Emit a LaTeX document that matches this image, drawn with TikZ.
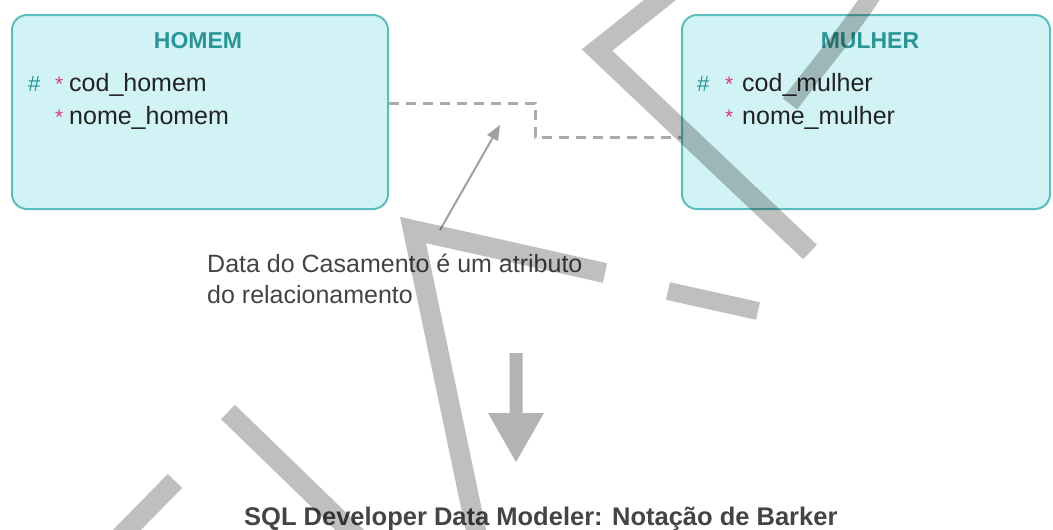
\documentclass[tikz,border=0pt]{standalone}
\usepackage{fontspec}
\setmainfont{Liberation Sans}
\usetikzlibrary{arrows.meta}
\definecolor{boxfill}{HTML}{D2F3F6}
\definecolor{boxline}{HTML}{5BBDBD}
\definecolor{teal2}{HTML}{2B9494}
\definecolor{starred}{HTML}{D2407A}
\definecolor{txt}{HTML}{222222}
\definecolor{note}{HTML}{444444}
\definecolor{dashgray}{HTML}{AAAAAA}
\definecolor{arrgray}{HTML}{A0A0A0}
\definecolor{bigarr}{HTML}{B3B3B3}
\tikzset{
  entity/.style={draw=boxline, line width=2pt, fill=boxfill, rounded corners=15pt, inner sep=0pt},
  etitle/.style={anchor=base, inner sep=0pt, text=teal2, font=\fontsize{23}{27}\selectfont\bfseries},
  hashmark/.style={anchor=base west, inner sep=0pt, text=teal2, font=\fontsize{22}{26}\selectfont},
  reqmark/.style={anchor=base west, inner sep=0pt, text=starred, font=\fontsize{21}{24}\selectfont},
  attr/.style={anchor=base west, inner sep=0pt, text=txt, font=\fontsize{25}{30}\selectfont},
  notetext/.style={anchor=base west, inner sep=0pt, text=note, font=\fontsize{25}{30}\selectfont},
  rel/.style={draw=dashgray, line width=3pt, dash pattern=on 10pt off 7pt},
  pointer/.style={draw=arrgray, line width=2pt, -{Triangle[length=15pt,width=12pt]}},
  watermark/.style={draw=black, opacity=0.25, line width=20pt, line join=miter}
}
\begin{document}
\begin{tikzpicture}[x=1pt, y=-1pt]
\useasboundingbox (0,0) rectangle (1053,530);
% entities
\node[entity, minimum width=376pt, minimum height=194pt] (homem) at (200,112) {};
\node[entity, minimum width=368pt, minimum height=194pt] (mulher) at (866,112) {};
\node[etitle] (thomem) at (198,48) {HOMEM};
\node[etitle] (tmulher) at (870,48) {MULHER};
% HOMEM attributes
\node[hashmark] (h1) at (28,91) {\#};
\node[reqmark] (s1) at (55,91) {*};
\node[attr] (a1) at (69,91) {cod\_homem};
\node[reqmark] (s2) at (55,124) {*};
\node[attr] (a2) at (69,124) {nome\_homem};
% MULHER attributes
\node[hashmark] (h2) at (697,91) {\#};
\node[reqmark] (s3) at (725,91) {*};
\node[attr] (a3) at (742,91) {cod\_mulher};
\node[reqmark] (s4) at (725,124) {*};
\node[attr] (a4) at (742,124) {nome\_mulher};
% relationship
\coordinate (b1) at (535,103);
\coordinate (b2) at (535,137);
\draw[rel] (homem.east |- b1) -- (b1) -- (b2) -- (mulher.west |- b2);
% note
\node[notetext] (n1) at (207,272) {Data do Casamento é um atributo};
\node[notetext] (n2) at (207,303) {do relacionamento};
\coordinate (ptail) at (440,230);
\coordinate (ptip) at (500,125);
\draw[pointer] (ptail) -- (ptip);
% big arrow
\fill[bigarr] (509.5,353) -- (522.5,353) -- (522.5,413) -- (544,413) -- (516,462) -- (488,413) -- (509.5,413) -- cycle;
% title
\node[anchor=base west, inner sep=0pt, text=note, font=\fontsize{25.5}{30}\selectfont\bfseries] (title) at (244,525) {SQL Developer Data Modeler: Notação de Barker};
% watermark strokes
\draw[watermark] (670,-8) -- (597,50) -- (810,252);
\draw[watermark] (605,273) -- (413,230) -- (478,540);
\draw[watermark] (228,412) -- (360,540);
\draw[watermark] (175,481) -- (117,540);
\draw[watermark, line width=18pt] (668,291) -- (758,311);
\draw[watermark, line width=18pt] (874,-8) .. controls (850,30) and (815,70) .. (790,104);
\end{tikzpicture}
\end{document}
